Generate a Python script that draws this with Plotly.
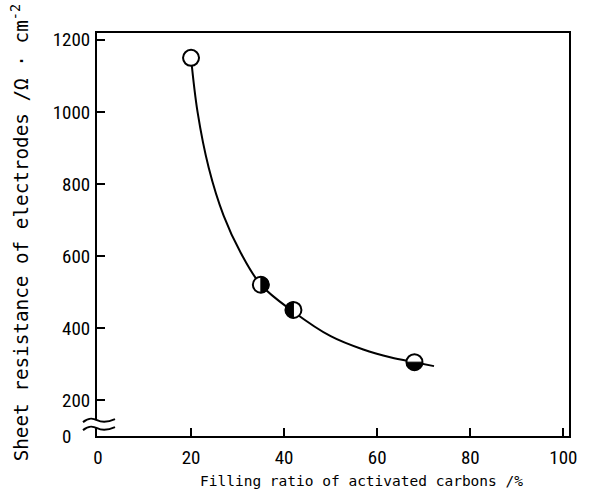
import plotly.graph_objects as go

# ---- data ----
x_pts = [20, 35, 42, 68]
y_pts = [1150, 520, 450, 305]
half_fill = ["none", "right", "left", "bottom"]

curve_x = [20, 21.4, 23.8, 27.0, 30.7, 35, 42, 50, 57, 63, 68, 72.2]
curve_y = [1150, 1000, 845, 712, 608, 520, 445, 377, 340, 318, 305, 294]

x_ticks = [0, 20, 40, 60, 80, 100]
x_ticktext = ["0", "20", "40", "60", "80", "100"]
y_ticks = [100, 200, 400, 600, 800, 1000, 1200]   # bottom of broken axis labelled 0
y_ticktext = ["0\u2007\u2007", "200", "400", "600", "800", "1000", "1200"]
y_range = [100, 1219]
y_break = 133

x_title = "Filling ratio of activated carbons /%"
y_title = "Sheet resistance of electrodes /Ω · cm<sup>-2</sup>"

TICKFONT = dict(family="Roboto Condensed, Liberation Sans Narrow, DejaVu Sans Condensed, sans-serif",
                size=19, color="black")
TITLEFONT = "DejaVu Sans Mono, Liberation Mono, monospace"

fig = go.Figure()
fig.add_trace(go.Scatter(x=curve_x, y=curve_y, mode="lines",
                         line=dict(color="black", width=2, shape="spline", smoothing=1),
                         hoverinfo="skip", showlegend=False))
fig.add_trace(go.Scatter(x=x_pts, y=y_pts, mode="markers",
                         marker=dict(symbol="circle", size=16, color="white",
                                     line=dict(color="black", width=2)),
                         showlegend=False))

k = 0.5523
r = 8
paths = {
    "right": f"M 0,{r} C {k*r},{r} {r},{k*r} {r},0 C {r},{-k*r} {k*r},{-r} 0,{-r} Z",
    "left": f"M 0,{r} C {-k*r},{r} {-r},{k*r} {-r},0 C {-r},{-k*r} {-k*r},{-r} 0,{-r} Z",
    "bottom": f"M {-r},0 C {-r},{-k*r} {-k*r},{-r} 0,{-r} C {k*r},{-r} {r},{-k*r} {r},0 Z",
}
shapes = []
for xv, yv, hf in zip(x_pts, y_pts, half_fill):
    if hf in paths:
        shapes.append(dict(type="path", xref="x", yref="y", xsizemode="pixel", ysizemode="pixel",
                           xanchor=xv, yanchor=yv, path=paths[hf],
                           fillcolor="black", line=dict(color="black", width=1), layer="above"))

# axis break: white gap + two wavy strokes (paper refs so they are not clipped)
yb = (y_break - y_range[0]) / (y_range[1] - y_range[0])
shapes.append(dict(type="rect", xref="paper", yref="paper", xsizemode="pixel", ysizemode="pixel",
                   xanchor=0, yanchor=yb, x0=-4, x1=4, y0=-4, y1=4,
                   fillcolor="white", line=dict(width=0), layer="above"))
for dy in (4, -4):
    shapes.append(dict(type="path", xref="paper", yref="paper", xsizemode="pixel", ysizemode="pixel",
                       xanchor=0, yanchor=yb,
                       path=f"M -14,{dy-2} C -8,{dy+3} -4,{dy+2} 0,{dy} S 9,{dy-3} 18,{dy+1}",
                       line=dict(color="black", width=2), layer="above"))

fig.update_layout(
    width=601, height=498,
    margin=dict(l=97, r=32, t=33, b=62),
    plot_bgcolor="white", paper_bgcolor="white",
    shapes=shapes,
    xaxis=dict(range=[-0.2, 101.2], tickvals=x_ticks, ticktext=x_ticktext,
               ticks="inside", ticklen=8, tickwidth=2, tickcolor="black",
               showline=True, linewidth=2, linecolor="black", mirror=True,
               showgrid=False, zeroline=False, tickfont=TICKFONT, ticklabelstandoff=3),
    yaxis=dict(range=y_range, tickvals=y_ticks, ticktext=y_ticktext,
               ticks="inside", ticklen=8, tickwidth=2, tickcolor="black",
               showline=True, linewidth=2, linecolor="black", mirror=True,
               showgrid=False, zeroline=False, tickfont=TICKFONT, ticklabelstandoff=1),
    annotations=[
        dict(text=x_title, xref="paper", yref="paper", x=0.561, y=-0.112,
             xanchor="center", yanchor="middle", showarrow=False,
             font=dict(family=TITLEFONT, size=14.5, color="black")),
        dict(text=y_title, xref="paper", yref="paper", x=-0.163, y=0.503,
             xanchor="center", yanchor="middle", showarrow=False, textangle=-90,
             font=dict(family=TITLEFONT, size=19.3, color="black")),
    ],
)

fig.write_html("out.html")
